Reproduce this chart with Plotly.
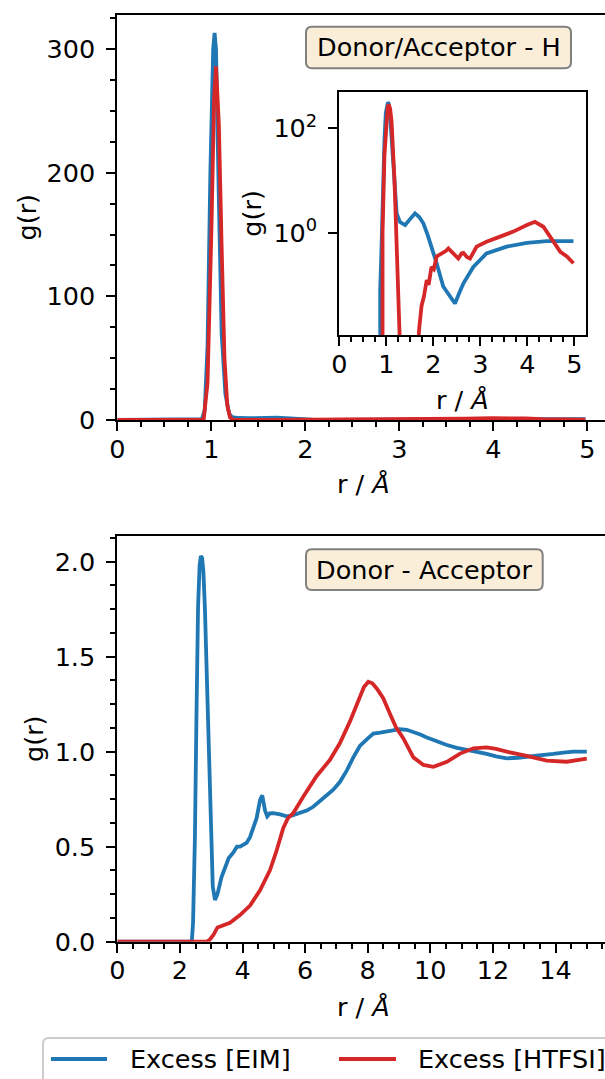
import plotly.graph_objects as go

W, H = 605, 1079
FONT = "DejaVu Sans"
FS = 25.5

# ---------------- data ----------------
series_names = ["Excess [EIM]", "Excess [HTFSI]"]
series_colors = ["#1f77b4", "#d62728"]

# Donor/Acceptor - H  (top panel, also drawn in the log inset)
r_h_eim = [0.0, 0.86, 0.87, 0.9, 0.93, 0.96, 0.99, 1.02, 1.035, 1.05, 1.08, 1.11,
           1.15, 1.19, 1.22, 1.29, 1.4, 1.5, 1.61, 1.7, 1.79, 1.88, 1.96, 2.07,
           2.21, 2.35, 2.46, 2.55, 2.64, 2.85, 3.13, 3.56, 3.99, 4.41, 4.98]
g_h_eim = [0, 0, 0.08, 0.6, 8, 60, 200, 300, 313, 300, 180, 70,
           21, 5, 2.35, 1.6, 1.4, 1.8, 2.35, 2.0, 1.5, 0.9, 0.54, 0.26,
           0.093, 0.059, 0.044, 0.07, 0.107, 0.22, 0.40, 0.54, 0.64, 0.69, 0.69]

r_h_htfsi = [0.0, 0.88, 0.9, 0.92, 0.96, 1.0, 1.03, 1.05, 1.08, 1.11, 1.14, 1.17,
             1.2, 1.23, 1.26, 1.29, 1.32, 1.62, 1.66, 1.7, 1.75, 1.8, 1.86, 1.9,
             1.96, 2.01, 2.07, 2.14, 2.21, 2.27, 2.32, 2.38, 2.43, 2.53, 2.6, 2.64,
             2.72, 2.78, 2.92, 3.13, 3.42, 3.7, 3.99, 4.16, 4.34, 4.52, 4.7, 4.84,
             4.98]
g_h_htfsi = [0, 0, 0.005, 1, 30, 150, 260, 286, 240, 140, 50, 12,
             2, 0.3, 0.03, 0.005, 0.001, 0.001, 0.005, 0.015, 0.04, 0.06, 0.124, 0.1,
             0.22, 0.2, 0.35, 0.38, 0.41, 0.45, 0.5, 0.44, 0.41, 0.32, 0.4, 0.41,
             0.34, 0.32, 0.54, 0.67, 0.84, 1.05, 1.4, 1.62, 1.3, 0.72, 0.43, 0.35,
             0.26]

# Donor - Acceptor  (bottom panel)
r_da_eim = [0, 2.38, 2.42, 2.48, 2.53, 2.58, 2.63, 2.67, 2.71, 2.75, 2.8, 2.86,
            2.91, 2.96, 3.05, 3.12, 3.2, 3.33, 3.44, 3.56, 3.71, 3.82, 3.92, 4.05,
            4.13, 4.24, 4.35, 4.45, 4.56, 4.63, 4.72, 4.79, 4.87, 4.99, 5.2, 5.41,
            5.6, 5.84, 6.05, 6.26, 6.47, 6.69, 6.9, 7.11, 7.33, 7.54, 7.75, 7.97,
            8.18, 8.4, 8.6, 8.8, 9.03, 9.25, 9.46, 9.68, 9.89, 10.2, 10.53, 10.85,
            11.17, 11.5, 11.8, 12.1, 12.44, 12.8, 13.3, 13.6, 13.93, 14.25, 14.57, 15.0]
g_da_eim = [0, 0, 0.1, 0.55, 1.2, 1.76, 1.98, 2.03, 2.02, 1.95, 1.75, 1.41,
            1.05, 0.71, 0.29, 0.22, 0.25, 0.34, 0.39, 0.44, 0.47, 0.5, 0.5, 0.51,
            0.52, 0.55, 0.6, 0.65, 0.745, 0.77, 0.69, 0.66, 0.675, 0.676, 0.67, 0.66,
            0.665, 0.676, 0.69, 0.71, 0.74, 0.77, 0.8, 0.84, 0.9, 0.97, 1.03, 1.065,
            1.095, 1.1, 1.105, 1.11, 1.118, 1.115, 1.105, 1.09, 1.075, 1.055, 1.035, 1.02,
            1.01, 1.0, 0.988, 0.975, 0.965, 0.968, 0.975, 0.98, 0.988, 0.995, 1.0, 1.0]

r_da_htfsi = [0, 2.86, 2.95, 3.07, 3.2, 3.34, 3.6, 3.92, 4.24, 4.56, 4.88, 5.09,
              5.3, 5.45, 5.62, 5.94, 6.37, 6.79, 7.11, 7.43, 7.7, 7.88, 8.02, 8.15,
              8.3, 8.5, 8.71, 8.9, 9.14, 9.46, 9.78, 10.1, 10.53, 10.95, 11.38, 11.8,
              12.1, 12.44, 13.08, 13.72, 14.36, 15.0]
g_da_htfsi = [0, 0, 0.01, 0.035, 0.075, 0.085, 0.1, 0.14, 0.19, 0.27, 0.377, 0.48,
              0.597, 0.65, 0.676, 0.763, 0.872, 0.956, 1.044, 1.158, 1.27, 1.34, 1.368, 1.36,
              1.33, 1.28, 1.2, 1.13, 1.07, 0.97, 0.93, 0.92, 0.947, 0.99, 1.018, 1.023,
              1.015, 1.0, 0.978, 0.953, 0.947, 0.963]

panel_labels = ["Donor/Acceptor - H", "Donor - Acceptor"]
x_title = "r / <i>Å</i>"
y_title = "g(r)"

# ---------------- helpers (pixel -> paper) ----------------
def PX(x):
    return x / W


def PY(y):
    return 1 - y / H


LW = 3.8
fig = go.Figure()

h_sets = [(r_h_eim, g_h_eim), (r_h_htfsi, g_h_htfsi)]
da_sets = [(r_da_eim, g_da_eim), (r_da_htfsi, g_da_htfsi)]

for (rx, gy), name, col in zip(h_sets, series_names, series_colors):
    fig.add_trace(go.Scatter(x=rx, y=gy, mode="lines", name=name, showlegend=False,
                             line=dict(color=col, width=LW), xaxis="x", yaxis="y"))
for (rx, gy), name, col in zip(h_sets, series_names, series_colors):
    fig.add_trace(go.Scatter(x=rx, y=gy, mode="lines", name=name, showlegend=False,
                             line=dict(color=col, width=LW), xaxis="x2", yaxis="y2"))
for (rx, gy), name, col in zip(da_sets, series_names, series_colors):
    fig.add_trace(go.Scatter(x=rx, y=gy, mode="lines", name=name, showlegend=False,
                             line=dict(color=col, width=LW), xaxis="x3", yaxis="y3"))

tickfont = dict(family=FONT, size=FS, color="black")
base = dict(showline=True, linecolor="black", linewidth=2, ticks="outside", ticklen=9,
            tickwidth=2, tickcolor="black", showgrid=False, zeroline=False,
            tickfont=tickfont, automargin=False, fixedrange=True)
xbase = dict(base, ticklabelstandoff=-4)
ybase = dict(base, ticklabelstandoff=6)


def minor(d):
    return dict(ticks="outside", ticklen=5, tickwidth=1.5, tickcolor="black", dtick=d,
                showgrid=False)


X0 = 117.3
fig.update_layout(
    width=W, height=H, template="none", showlegend=False,
    paper_bgcolor="white", plot_bgcolor="white",
    margin=dict(l=0, r=0, t=0, b=0), autosize=False,
    font=dict(family=FONT, size=FS, color="black"),
    xaxis=dict(xbase, domain=[PX(X0), 1], anchor="y", range=[0, (W - X0) / 94.0],
               dtick=1, tick0=0, mirror=True, minor=minor(0.25)),
    yaxis=dict(ybase, domain=[PY(420), PY(14.5)], anchor="x", range=[0, 328],
               dtick=100, tick0=0, minor=minor(25)),
    xaxis2=dict(xbase, domain=[PX(339.3), PX(585.7)], anchor="y2", range=[0, 5.24],
                dtick=1, tick0=0, mirror=True, minor=minor(0.25)),
    yaxis2=dict(ybase, domain=[PY(335), PY(92.3)], anchor="x2", type="log",
                range=[-1.96, 2.69], tickvals=[1, 100],
                ticktext=["10<sup>0</sup>", "10<sup>2</sup>"], mirror=True),
    xaxis3=dict(xbase, domain=[PX(X0), 1], anchor="y3", range=[0, (W - X0) / 31.3],
                dtick=2, tick0=0, mirror=True, minor=minor(0.5)),
    yaxis3=dict(ybase, domain=[PY(941.7), PY(536)], anchor="x3", range=[0, 2.135],
                dtick=0.5, tick0=0, tickformat=".1f", minor=minor(0.125)),
)

annots = []
# axis titles
for (cx, cy) in [(363, 484), (462.5, 400), (363, 1007)]:
    annots.append(dict(text=x_title, x=PX(cx), y=PY(cy), xref="paper", yref="paper",
                       showarrow=False, xanchor="center", yanchor="middle",
                       font=dict(family=FONT, size=FS, color="black")))
for (cx, cy) in [(27, 217.5), (252, 213.7), (34, 739)]:
    annots.append(dict(text=y_title, x=PX(cx), y=PY(cy), xref="paper", yref="paper",
                       showarrow=False, xanchor="center", yanchor="middle", textangle=-90,
                       font=dict(family=FONT, size=FS, color="black")))


def rrect(x0, y0, x1, y1, r):
    pts = [("M", [(x0 + r, y0)]), ("L", [(x1 - r, y0)]), ("Q", [(x1, y0), (x1, y0 + r)]),
           ("L", [(x1, y1 - r)]), ("Q", [(x1, y1), (x1 - r, y1)]), ("L", [(x0 + r, y1)]),
           ("Q", [(x0, y1), (x0, y1 - r)]), ("L", [(x0, y0 + r)]),
           ("Q", [(x0, y0), (x0 + r, y0)])]
    s = ""
    for cmd, ps in pts:
        s += cmd + " ".join(f"{PX(a):.5f},{PY(b):.5f}" for a, b in ps) + " "
    return s + "Z"


shapes = []
# panel text boxes
boxes = [((306, 26.7, 571, 68.3), (438.5, 47.5)), ((306, 549.3, 542.7, 590), (424.3, 569.7))]
for label, (rect, (tx, ty)) in zip(panel_labels, boxes):
    shapes.append(dict(type="path", path=rrect(*rect, 6), xref="paper", yref="paper",
                       fillcolor="#faeed9", line=dict(color="#808080", width=2), layer="above"))
    annots.append(dict(text=label, x=PX(tx), y=PY(ty), xref="paper", yref="paper",
                       showarrow=False, xanchor="center", yanchor="middle",
                       font=dict(family=FONT, size=FS, color="black")))

# legend (drawn as a frame + handles + labels, cut by the bottom edge like the reference)
shapes.append(dict(type="path", path=rrect(43, 1038, 640, 1110, 6), xref="paper", yref="paper",
                   fillcolor="white", line=dict(color="#cccccc", width=2), layer="above"))
leg_items = [(51, 107, 128), (339, 396, 416)]
for name, col, (lx0, lx1, tx) in zip(series_names, series_colors, leg_items):
    shapes.append(dict(type="line", x0=PX(lx0), x1=PX(lx1), y0=PY(1059), y1=PY(1059),
                       xref="paper", yref="paper", line=dict(color=col, width=LW),
                       layer="above"))
    annots.append(dict(text=name, x=PX(tx), y=PY(1059), xref="paper", yref="paper",
                       showarrow=False, xanchor="left", yanchor="middle",
                       font=dict(family=FONT, size=FS, color="black")))

fig.update_layout(annotations=annots, shapes=shapes)
fig.write_html("out.html")
